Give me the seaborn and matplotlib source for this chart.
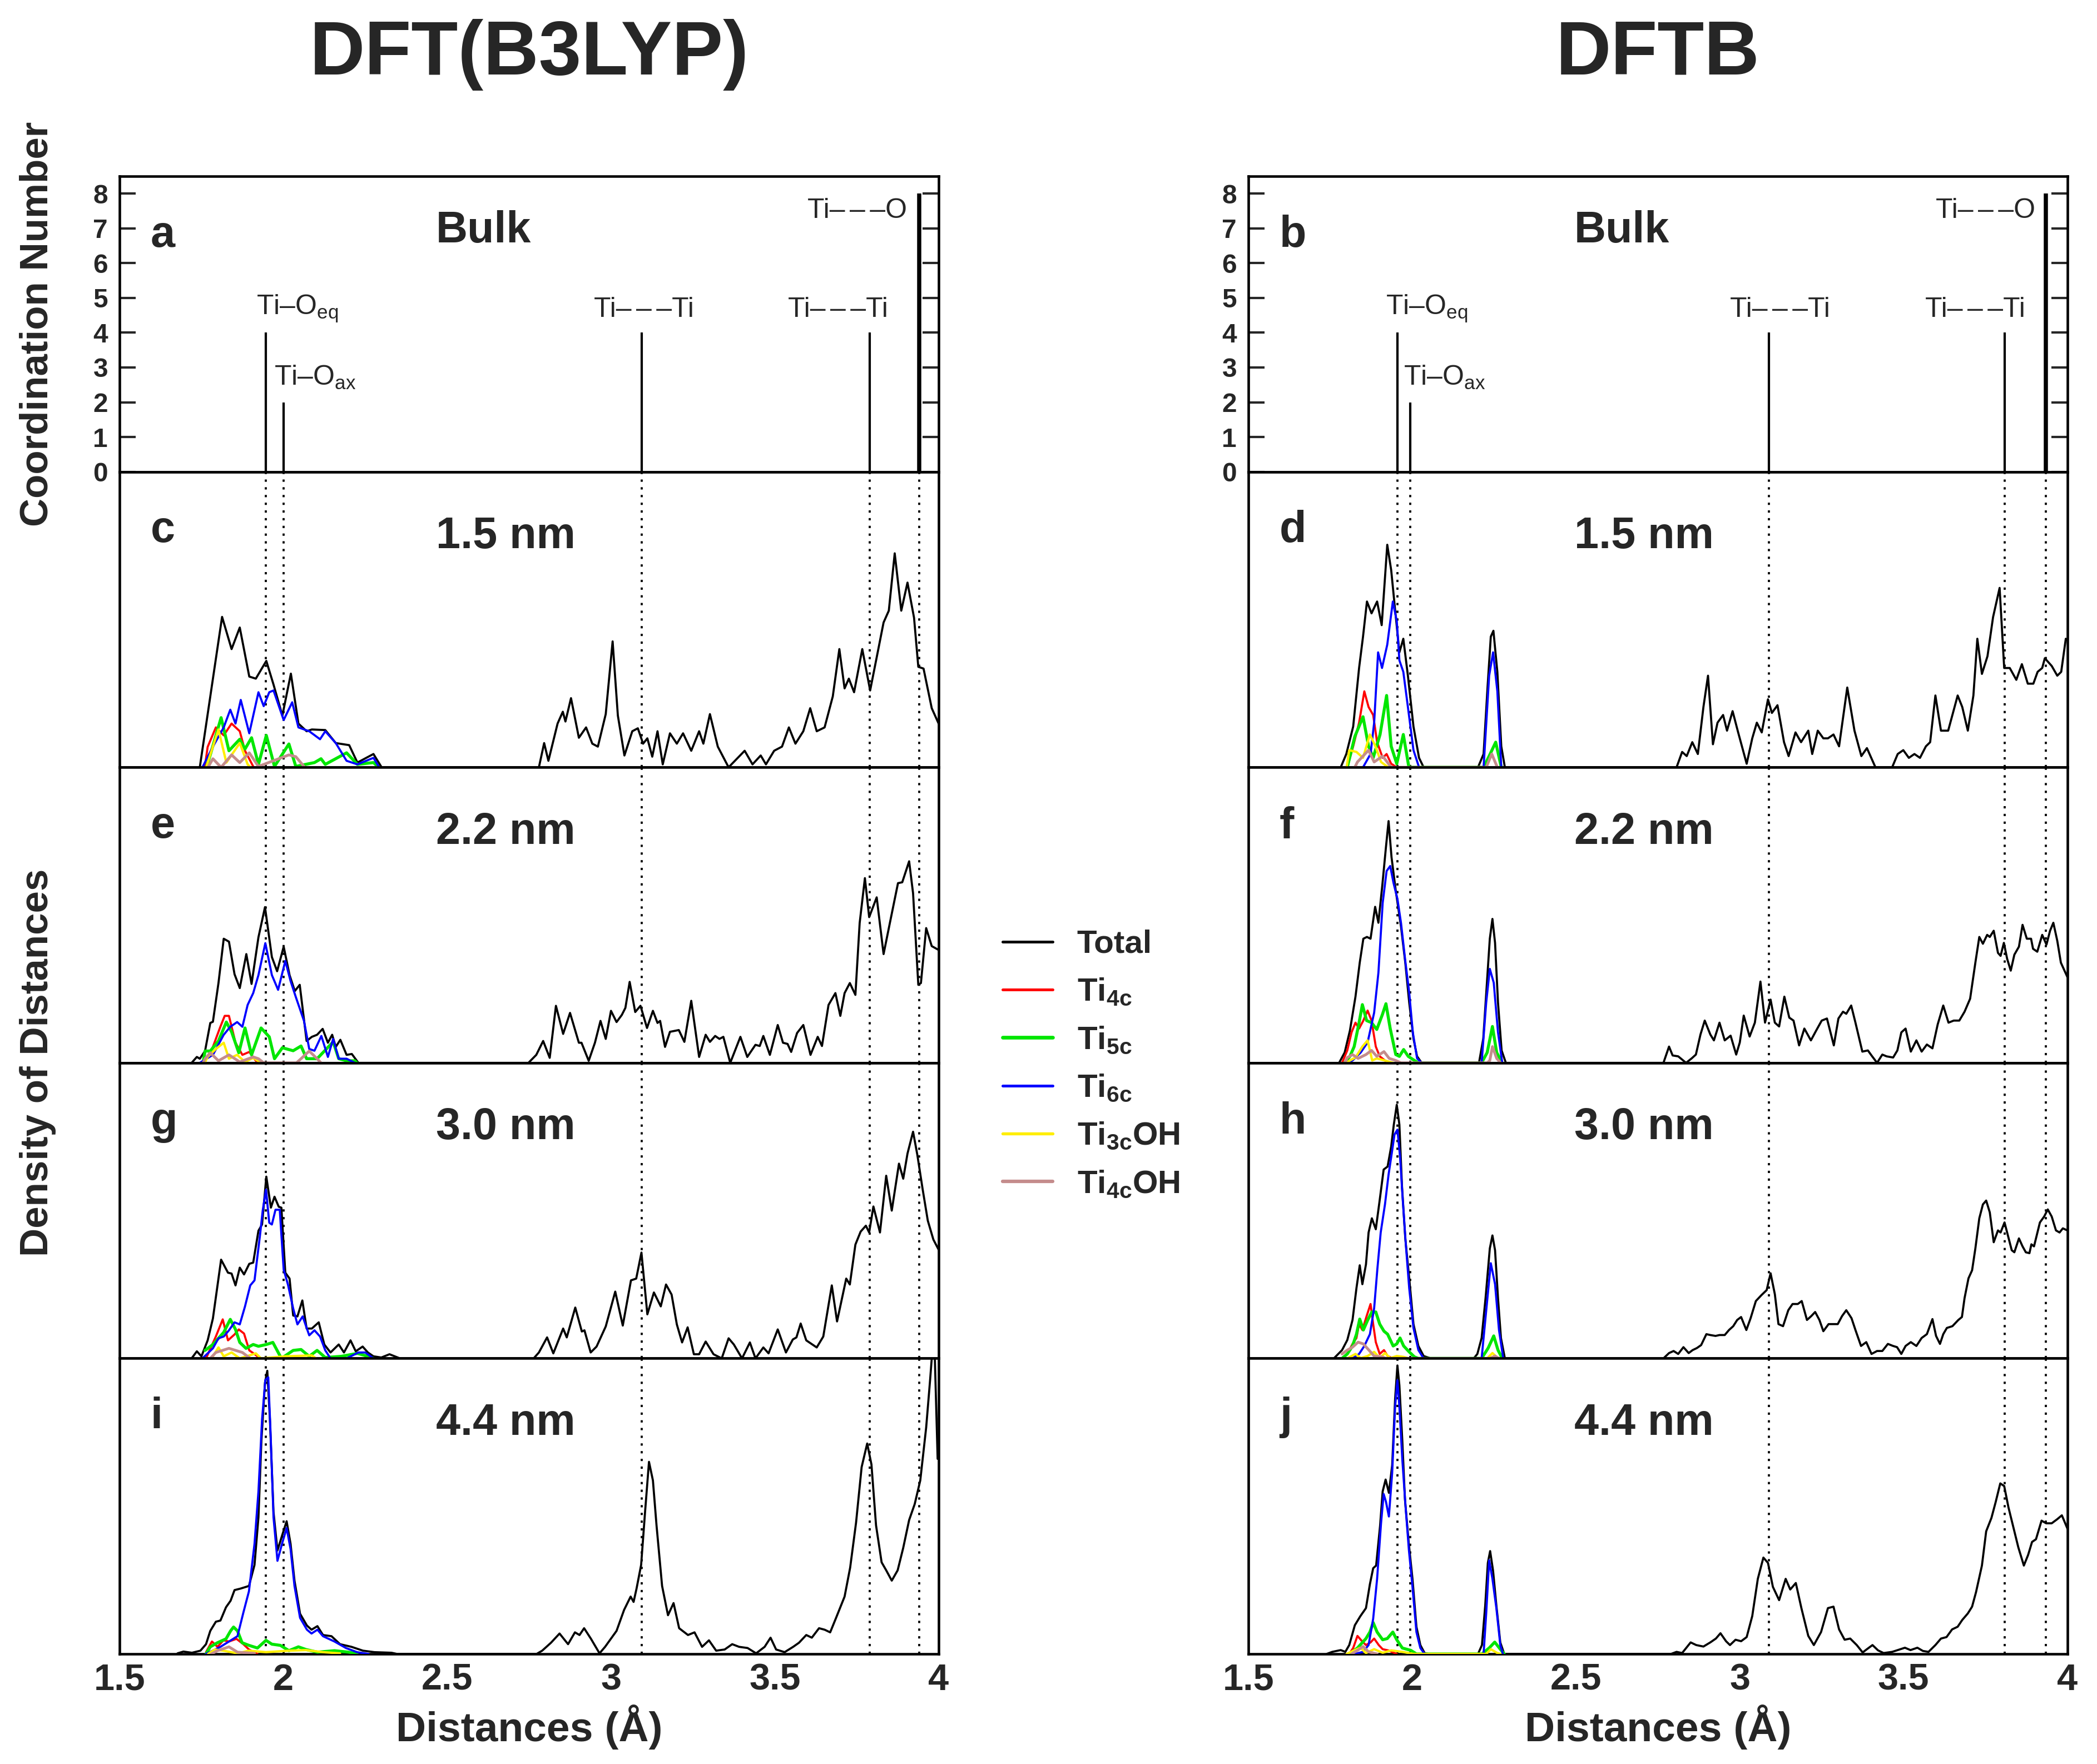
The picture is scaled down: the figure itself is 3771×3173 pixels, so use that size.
import matplotlib
matplotlib.use("Agg")
import matplotlib.pyplot as plt
import seaborn as sns
import pandas as pd

# ------------------------------------------------------------------ data
X_TICKS = [1.5, 2.0, 2.5, 3.0, 3.5, 4.0]
X_TICK_LABELS = ["1.5", "2", "2.5", "3", "3.5", "4"]
CN_TICKS = [0, 1, 2, 3, 4, 5, 6, 7, 8]

DASHES = "–\u2006–\u2006–"
BULK_NAMES = ["Ti–O$_{\\mathrm{eq}}$", "Ti–O$_{\\mathrm{ax}}$", "Ti" + DASHES + "Ti", "Ti" + DASHES + "Ti",
              "Ti" + DASHES + "O"]
DFT_BULK_POS = [1.947, 2.000, 3.094, 3.790, 3.941]
DFT_BULK_CN = [4, 2, 4, 4, 8]
DFTB_BULK_POS = [1.955, 1.994, 3.089, 3.808, 3.934]
DFTB_BULK_CN = [4, 2, 4, 4, 8]

SIZES = ["1.5 nm", "2.2 nm", "3.0 nm", "4.4 nm"]
SERIES = ["Total", "Ti4c", "Ti5c", "Ti6c", "Ti3cOH", "Ti4cOH"]
LEGEND_LABELS = ["Total", "Ti$_{\\mathbf{4c}}$", "Ti$_{\\mathbf{5c}}$", "Ti$_{\\mathbf{6c}}$",
                 "Ti$_{\\mathbf{3c}}$OH", "Ti$_{\\mathbf{4c}}$OH"]

# ---- DFT(B3LYP), 1.5 nm (panel c)
C_TOTAL = [(1.745,0),(1.813,0.509),(1.842,0.40),(1.867,0.473),(1.896,0.307),(1.916,0.30),(1.948,0.36),
           (1.970,0.28),(1.997,0.175),(2.023,0.317),(2.046,0.148),(2.071,0.122),(2.087,0.128),(2.128,0.126),
           (2.160,0.082),(2.201,0.075),(2.226,0.016),(2.275,0.045),(2.300,0.0),(2.780,0.0),(2.796,0.082),
           (2.809,0.022),(2.837,0.148),(2.853,0.188),(2.861,0.155),(2.878,0.234),(2.902,0.10),(2.924,0.135),
           (2.943,0.08),(2.960,0.07),(2.984,0.18),(3.005,0.426),(3.021,0.175),(3.041,0.04),(3.065,0.122),
           (3.082,0.132),(3.098,0.08),(3.111,0.098),(3.126,0.036),(3.142,0.122),(3.158,0.01),(3.180,0.115),
           (3.201,0.08),(3.220,0.115),(3.245,0.056),(3.269,0.122),(3.282,0.08),(3.302,0.18),(3.326,0.07),
           (3.359,0.0),(3.408,0.056),(3.432,0.01),(3.457,0.04),(3.473,0.01),(3.498,0.056),(3.522,0.07),
           (3.543,0.135),(3.563,0.08),(3.587,0.122),(3.608,0.20),(3.628,0.122),(3.652,0.135),(3.677,0.24),
           (3.697,0.40),(3.713,0.267),(3.726,0.30),(3.742,0.254),(3.767,0.40),(3.791,0.26),(3.816,0.40),
           (3.832,0.49),(3.848,0.53),(3.866,0.724),(3.886,0.53),(3.905,0.625),(3.925,0.506),(3.938,0.34),
           (3.954,0.334),(3.979,0.20),(4.0,0.148)]
C_TI4C = [(1.760,0),(1.769,0.069),(1.794,0.135),(1.818,0.108),(1.842,0.148),(1.867,0.122),(1.883,0.056),(1.908,0.003)]
C_TI5C = [(1.765,0),(1.777,0.042),(1.810,0.168),(1.834,0.056),(1.867,0.095),(1.883,0.062),(1.903,0.10),(1.924,0.01),
          (1.948,0.108),(1.973,0.003),(2.017,0.079),(2.038,0.003),(2.095,0.016),(2.115,0.029),(2.128,0.01),
          (2.193,0.049),(2.226,0.01),(2.275,0.016),(2.291,0.0)]
C_TI6C = [(1.753,0),(1.785,0.07),(1.818,0.135),(1.838,0.195),(1.854,0.148),(1.870,0.228),(1.896,0.115),(1.924,0.254),
          (1.940,0.207),(1.957,0.254),(1.970,0.26),(2.001,0.16),(2.027,0.22),(2.046,0.135),(2.079,0.122),(2.112,0.095),
          (2.128,0.122),(2.160,0.082),(2.193,0.022),(2.226,0.01),(2.275,0.032),(2.291,0.003)]
C_TI3COH = [(1.765,0.0),(1.769,0.016),(1.802,0.128),(1.826,0.016),(1.867,0.082),(1.891,0.01),(1.900,0.0)]
C_TI4COH = [(1.770,0),(1.785,0.029),(1.810,0.0),(1.842,0.042),(1.867,0.016),(1.896,0.049),(1.924,0.003),
            (2.017,0.042),(2.038,0.036),(2.063,0.003)]

# ---- DFT(B3LYP), 2.2 nm (panel e)
E_TOTAL = [(1.720,0),(1.736,0.02),(1.745,0.014),(1.761,0.04),(1.777,0.135),(1.785,0.139),(1.802,0.27),(1.818,0.42),
           (1.834,0.41),(1.851,0.30),(1.867,0.253),(1.887,0.368),(1.903,0.267),(1.924,0.425),(1.944,0.527),
           (1.965,0.358),(1.981,0.31),(2.001,0.393),(2.019,0.297),(2.035,0.243),(2.050,0.264),(2.071,0.074),
           (2.087,0.088),(2.103,0.095),(2.120,0.115),(2.136,0.068),(2.149,0.095),(2.160,0.054),(2.174,0.078),
           (2.193,0.027),(2.209,0.030),(2.229,0.0),(2.748,0.0),(2.772,0.027),(2.793,0.074),(2.813,0.017),
           (2.832,0.193),(2.854,0.098),(2.875,0.169),(2.902,0.068),(2.910,0.068),(2.932,0.007),(2.951,0.068),
           (2.968,0.142),(2.984,0.081),(3.000,0.176),(3.017,0.138),(3.033,0.162),(3.044,0.186),(3.057,0.274),
           (3.074,0.172),(3.090,0.193),(3.110,0.118),(3.128,0.176),(3.142,0.135),(3.150,0.142),(3.165,0.054),
           (3.180,0.105),(3.207,0.111),(3.224,0.071),(3.245,0.21),(3.269,0.02),(3.289,0.095),(3.302,0.071),
           (3.318,0.091),(3.331,0.081),(3.343,0.088),(3.364,0.0),(3.395,0.088),(3.416,0.02),(3.441,0.061),
           (3.454,0.057),(3.465,0.091),(3.485,0.027),(3.509,0.128),(3.525,0.068),(3.539,0.064),(3.550,0.037),
           (3.568,0.101),(3.587,0.128),(3.609,0.027),(3.631,0.088),(3.644,0.057),(3.664,0.196),(3.685,0.236),
           (3.700,0.159),(3.713,0.236),(3.729,0.27),(3.746,0.23),(3.759,0.473),(3.775,0.625),(3.788,0.493),
           (3.811,0.56),(3.832,0.368),(3.853,0.483),(3.876,0.608),(3.889,0.611),(3.910,0.682),(3.922,0.574),
           (3.938,0.264),(3.946,0.27),(3.962,0.456),(3.979,0.395),(4.0,0.382)]
E_TI4C = [(1.761,0.007),(1.785,0.054),(1.807,0.12),(1.821,0.159),(1.834,0.159),(1.854,0.068),(1.875,0.027),
          (1.896,0.037),(1.916,0.007),(1.932,0.0)]
E_TI5C = [(1.755,0.0),(1.761,0.04),(1.777,0.04),(1.802,0.074),(1.826,0.138),(1.842,0.105),(1.864,0.034),(1.883,0.118),
          (1.903,0.027),(1.932,0.118),(1.957,0.088),(1.973,0.014),(1.997,0.051),(2.030,0.041),(2.054,0.057),
          (2.071,0.014),(2.103,0.014),(2.152,0.071),(2.169,0.014),(2.193,0.007),(2.218,0.007),(2.225,0.0)]
E_TI6C = [(1.745,0),(1.785,0.027),(1.818,0.095),(1.838,0.122),(1.859,0.138),(1.875,0.122),(1.891,0.196),(1.908,0.236),
          (1.924,0.297),(1.945,0.405),(1.965,0.297),(1.984,0.247),(2.006,0.345),(2.022,0.277),(2.038,0.223),
          (2.063,0.142),(2.079,0.047),(2.095,0.041),(2.116,0.091),(2.136,0.020),(2.152,0.081),(2.169,0.014),
          (2.193,0.014),(2.218,0.0)]
E_TI3COH = [(1.760,0.0),(1.769,0.02),(1.794,0.047),(1.818,0.068),(1.834,0.014),(1.859,0.027),(1.883,0.003),
            (1.908,0.017),(1.932,0.0)]
E_TI4COH = [(1.755,0.0),(1.761,0.014),(1.777,0.034),(1.802,0.007),(1.834,0.027),(1.867,0.003),(1.908,0.02),
            (1.924,0.014),(1.940,0.0),(2.040,0.0),(2.054,0.014),(2.079,0.04),(2.103,0.014),(2.115,0.0)]

# ---- DFT(B3LYP), 3.0 nm (panel g)
G_TOTAL = [(1.720,0),(1.736,0.024),(1.750,0.007),(1.769,0.061),(1.785,0.135),(1.810,0.334),(1.831,0.29),
           (1.842,0.287),(1.854,0.247),(1.867,0.307),(1.880,0.284),(1.896,0.32),(1.908,0.324),(1.924,0.432),
           (1.935,0.453),(1.948,0.615),(1.962,0.51),(1.973,0.547),(1.986,0.513),(1.994,0.51),(2.006,0.29),
           (2.019,0.27),(2.030,0.145),(2.043,0.142),(2.058,0.196),(2.071,0.101),(2.087,0.101),(2.108,0.122),
           (2.125,0.047),(2.144,0.02),(2.169,0.047),(2.185,0.02),(2.205,0.061),(2.221,0.024),(2.242,0.04),
           (2.258,0.02),(2.275,0.007),(2.299,0.003),(2.324,0.014),(2.356,0.0),(2.764,0.0),(2.780,0.02),
           (2.805,0.071),(2.824,0.017),(2.854,0.101),(2.865,0.071),(2.891,0.172),(2.911,0.091),(2.919,0.095),
           (2.938,0.02),(2.956,0.04),(2.984,0.108),(3.013,0.226),(3.036,0.111),(3.061,0.264),(3.077,0.27),
           (3.093,0.358),(3.111,0.149),(3.131,0.223),(3.152,0.176),(3.168,0.25),(3.185,0.216),(3.201,0.115),
           (3.217,0.054),(3.234,0.105),(3.253,0.014),(3.269,0.014),(3.289,0.057),(3.313,0.014),(3.338,0.0),
           (3.359,0.068),(3.375,0.047),(3.400,0.0),(3.424,0.054),(3.441,0.0),(3.465,0.037),(3.481,0.017),
           (3.509,0.098),(3.534,0.02),(3.555,0.064),(3.566,0.071),(3.579,0.118),(3.596,0.061),(3.628,0.037),
           (3.648,0.074),(3.674,0.247),(3.690,0.125),(3.718,0.27),(3.729,0.25),(3.746,0.385),(3.762,0.429),
           (3.778,0.449),(3.788,0.426),(3.801,0.514),(3.821,0.426),(3.840,0.618),(3.857,0.50),(3.879,0.659),
           (3.892,0.608),(3.905,0.693),(3.922,0.767),(3.935,0.689),(3.951,0.574),(3.967,0.466),(3.984,0.402),
           (4.0,0.368)]
G_TI4C = [(1.764,0),(1.794,0.074),(1.815,0.132),(1.831,0.061),(1.851,0.081),(1.864,0.098),(1.880,0.084),
          (1.896,0.027),(1.913,0.014),(1.929,0.0)]
G_TI5C = [(1.761,0.027),(1.785,0.047),(1.818,0.088),(1.838,0.132),(1.854,0.098),(1.867,0.054),(1.886,0.034),
          (1.908,0.047),(1.924,0.041),(1.948,0.047),(1.968,0.054),(1.994,0.0),(2.030,0.027),(2.054,0.03),
          (2.079,0.007),(2.103,0.027),(2.128,0.003),(2.177,0.007),(2.226,0.017),(2.258,0.007),(2.275,0.0)]
G_TI6C = [(1.753,0),(1.785,0.034),(1.802,0.068),(1.818,0.074),(1.834,0.095),(1.851,0.122),(1.867,0.115),
          (1.883,0.176),(1.899,0.247),(1.912,0.264),(1.929,0.419),(1.937,0.50),(1.947,0.571),(1.957,0.459),
          (1.965,0.453),(1.976,0.503),(1.989,0.503),(2.001,0.30),(2.014,0.25),(2.030,0.169),(2.043,0.115),
          (2.059,0.142),(2.079,0.078),(2.095,0.095),(2.112,0.074),(2.128,0.027),(2.144,0.0),(2.193,0.0),
          (2.229,0.020),(2.250,0.020),(2.275,0.0)]
G_TI3COH = [(1.785,0.007),(1.802,0.037),(1.818,0.007),(1.842,0.02),(1.867,0.0),(1.916,0.017),(1.932,0.0),
            (2.006,0.007),(2.087,0.01),(2.100,0.0)]
G_TI4COH = [(1.777,0.0),(1.794,0.02),(1.834,0.034),(1.875,0.02),(1.899,0.0)]

# ---- DFT(B3LYP), 4.4 nm (panel i)
I_TOTAL = [(1.677,0.002),(1.695,0.008),(1.721,0.004),(1.747,0.011),(1.764,0.033),(1.777,0.078),(1.794,0.109),
           (1.808,0.113),(1.825,0.158),(1.839,0.18),(1.851,0.216),(1.869,0.221),(1.895,0.23),(1.912,0.301),
           (1.924,0.462),(1.933,0.721),(1.944,0.918),(1.951,0.958),(1.959,0.793),(1.970,0.48),(1.982,0.35),
           (1.996,0.40),(2.010,0.449),(2.022,0.373),(2.034,0.248),(2.051,0.136),(2.072,0.096),(2.086,0.082),
           (2.104,0.094),(2.121,0.064),(2.147,0.06),(2.173,0.033),(2.208,0.024),(2.243,0.011),(2.278,0.006),
           (2.330,0.004),(2.347,0.0),(2.773,0.0),(2.790,0.011),(2.817,0.038),(2.843,0.069),(2.869,0.033),
           (2.890,0.073),(2.904,0.064),(2.918,0.087),(2.939,0.051),(2.965,0.002),(2.982,0.024),(3.017,0.078),
           (3.040,0.149),(3.060,0.194),(3.069,0.176),(3.078,0.221),(3.092,0.301),(3.104,0.48),(3.116,0.65),
           (3.128,0.587),(3.139,0.435),(3.156,0.23),(3.174,0.131),(3.191,0.172),(3.208,0.087),(3.235,0.064),
           (3.255,0.073),(3.278,0.024),(3.299,0.046),(3.321,0.011),(3.347,0.015),(3.370,0.033),(3.391,0.024),
           (3.417,0.02),(3.443,0.002),(3.469,0.024),(3.487,0.055),(3.504,0.015),(3.530,0.006),(3.556,0.024),
           (3.574,0.038),(3.596,0.064),(3.613,0.055),(3.635,0.087),(3.652,0.082),(3.669,0.073),(3.687,0.122),
           (3.700,0.158),(3.713,0.194),(3.730,0.292),(3.748,0.444),(3.765,0.632),(3.782,0.712),(3.795,0.641),
           (3.809,0.435),(3.826,0.31),(3.840,0.283),(3.857,0.248),(3.875,0.283),(3.892,0.359),(3.910,0.453),
           (3.927,0.507),(3.944,0.587),(3.962,0.766),(3.974,0.927),(3.986,1.10),(3.997,0.66)]
I_TI4C = [(1.764,0.006),(1.782,0.042),(1.799,0.024),(1.817,0.046),(1.834,0.042),(1.857,0.051),(1.878,0.033),
          (1.895,0.015),(1.921,0.0)]
I_TI5C = [(1.764,0.0),(1.777,0.024),(1.799,0.038),(1.825,0.051),(1.839,0.078),(1.848,0.091),(1.860,0.078),
          (1.874,0.038),(1.895,0.029),(1.921,0.02),(1.947,0.046),(1.965,0.033),(1.991,0.029),(2.017,0.011),
          (2.046,0.024),(2.069,0.015),(2.104,0.006),(2.156,0.011),(2.199,0.006),(2.225,0.0)]
I_TI6C = [(1.764,0),(1.808,0.024),(1.834,0.042),(1.860,0.06),(1.878,0.14),(1.895,0.212),(1.912,0.373),
          (1.924,0.55),(1.935,0.793),(1.945,0.927),(1.954,0.936),(1.961,0.748),(1.970,0.462),(1.982,0.315),
          (1.996,0.373),(2.010,0.426),(2.022,0.355),(2.034,0.23),(2.051,0.122),(2.072,0.082),(2.086,0.069),
          (2.104,0.082),(2.121,0.06),(2.156,0.042),(2.191,0.02),(2.225,0.006),(2.260,0.0)]
I_TI3COH = [(1.770,0.0),(1.791,0.015),(1.817,0.011),(1.860,0.002),(1.895,0.011),(1.947,0.006),(2.017,0.011),
            (2.069,0.013),(2.121,0.006),(2.173,0.002)]
I_TI4COH = [(1.780,0.0),(1.799,0.011),(1.834,0.024),(1.860,0.006),(1.912,0.002)]

# ---- DFTB, 1.5 nm (panel d)
D_TOTAL = [(1.782,0),(1.799,0.045),(1.820,0.138),(1.838,0.336),(1.850,0.442),(1.862,0.561),(1.876,0.521),
           (1.893,0.561),(1.907,0.481),(1.924,0.753),(1.936,0.667),(1.949,0.521),(1.961,0.389),(1.973,0.435),
           (1.987,0.31),(2.004,0.138),(2.021,0.032),(2.035,0.0),(2.201,0.0),(2.218,0.045),(2.230,0.27),
           (2.240,0.442),(2.248,0.462),(2.260,0.323),(2.272,0.071),(2.283,0.0),(2.807,0.0),(2.824,0.052),
           (2.838,0.038),(2.855,0.085),(2.872,0.045),(2.889,0.204),(2.903,0.31),(2.918,0.078),(2.932,0.151),
           (2.949,0.177),(2.961,0.124),(2.978,0.19),(2.995,0.118),(3.021,0.012),(3.038,0.098),(3.052,0.151),
           (3.067,0.118),(3.086,0.23),(3.098,0.184),(3.115,0.21),(3.135,0.085),(3.149,0.038),(3.170,0.118),
           (3.187,0.085),(3.209,0.124),(3.221,0.045),(3.238,0.124),(3.255,0.098),(3.269,0.098),(3.286,0.111),
           (3.303,0.071),(3.328,0.27),(3.350,0.124),(3.371,0.038),(3.388,0.065),(3.414,0.0),(3.465,0.0),
           (3.482,0.045),(3.499,0.058),(3.516,0.032),(3.533,0.045),(3.550,0.032),(3.568,0.071),(3.581,0.085),
           (3.597,0.243),(3.614,0.124),(3.636,0.124),(3.665,0.243),(3.679,0.204),(3.696,0.124),(3.713,0.243),
           (3.725,0.435),(3.739,0.316),(3.756,0.376),(3.773,0.508),(3.793,0.607),(3.807,0.336),(3.824,0.336),
           (3.844,0.296),(3.861,0.349),(3.879,0.283),(3.896,0.283),(3.909,0.323),(3.923,0.336),(3.931,0.369),
           (3.952,0.343),(3.969,0.31),(3.981,0.323),(3.995,0.435),(4.0,0.43)]
D_TI4C = [(1.802,0),(1.820,0.071),(1.838,0.151),(1.854,0.257),(1.867,0.204),(1.881,0.177),(1.893,0.085),
          (1.910,0.032),(1.922,0.045),(1.936,0.012),(1.953,0.0)]
D_TI5C = [(1.802,0),(1.825,0.104),(1.850,0.171),(1.867,0.071),(1.881,0.032),(1.902,0.111),(1.922,0.243),
          (1.936,0.071),(1.953,0.012),(1.973,0.111),(1.990,0.0),(2.218,0.0),(2.235,0.038),(2.255,0.085),(2.272,0.0)]
D_TI6C = [(1.850,0),(1.873,0.045),(1.884,0.151),(1.896,0.389),(1.908,0.336),(1.924,0.415),(1.941,0.561),
          (1.953,0.495),(1.961,0.362),(1.973,0.323),(1.987,0.204),(2.004,0.058),(2.021,0.0),(2.218,0.0),
          (2.235,0.31),(2.247,0.389),(2.260,0.257),(2.272,0.0)]
D_TI3COH = [(1.800,0.0),(1.808,0.058),(1.830,0.052),(1.850,0.032),(1.871,0.111),(1.888,0.071),(1.905,0.018),
            (1.927,0.0)]
D_TI4COH = [(1.825,0.0),(1.833,0.018),(1.867,0.058),(1.884,0.018),(1.910,0.038),(1.936,0.0),(2.226,0.0),
            (2.243,0.045),(2.260,0.0)]

# ---- DFTB, 2.2 nm (panel f)
F_TOTAL = [(1.777,0),(1.794,0.035),(1.810,0.109),(1.827,0.224),(1.840,0.339),(1.851,0.42),(1.862,0.426),
           (1.873,0.42),(1.887,0.528),(1.897,0.474),(1.909,0.602),(1.920,0.73),(1.928,0.818),(1.937,0.696),
           (1.950,0.582),(1.966,0.46),(1.979,0.339),(1.991,0.204),(2.004,0.082),(2.015,0.022),(2.029,0.0),
           (2.204,0.0),(2.217,0.082),(2.229,0.285),(2.237,0.42),(2.245,0.487),(2.253,0.406),(2.262,0.204),
           (2.273,0.042),(2.286,0.0),(2.767,0.0),(2.784,0.055),(2.795,0.025),(2.812,0.022),(2.836,0.0),
           (2.853,0.015),(2.866,0.028),(2.880,0.096),(2.893,0.143),(2.910,0.096),(2.921,0.076),(2.938,0.136),
           (2.954,0.076),(2.972,0.092),(2.989,0.028),(3.000,0.069),(3.012,0.16),(3.030,0.089),(3.046,0.136),
           (3.063,0.275),(3.077,0.136),(3.094,0.214),(3.107,0.136),(3.120,0.123),(3.136,0.224),(3.151,0.153),
           (3.164,0.143),(3.181,0.059),(3.197,0.116),(3.217,0.076),(3.233,0.109),(3.250,0.143),(3.266,0.15),
           (3.287,0.059),(3.301,0.15),(3.315,0.173),(3.325,0.166),(3.340,0.194),(3.353,0.136),(3.374,0.038),
           (3.391,0.042),(3.402,0.025),(3.419,0.0),(3.435,0.028),(3.448,0.022),(3.468,0.018),(3.481,0.042),
           (3.493,0.103),(3.506,0.116),(3.522,0.038),(3.539,0.076),(3.555,0.038),(3.571,0.062),(3.588,0.049),
           (3.604,0.13),(3.621,0.194),(3.637,0.136),(3.653,0.143),(3.670,0.143),(3.686,0.173),(3.703,0.217),
           (3.719,0.339),(3.731,0.426),(3.742,0.403),(3.755,0.433),(3.763,0.426),(3.775,0.447),(3.788,0.372),
           (3.796,0.362),(3.806,0.406),(3.816,0.352),(3.827,0.312),(3.838,0.366),(3.852,0.393),(3.863,0.467),
           (3.876,0.42),(3.889,0.42),(3.895,0.386),(3.908,0.376),(3.923,0.433),(3.936,0.40),(3.947,0.447),
           (3.957,0.474),(3.969,0.413),(3.980,0.339),(4.0,0.29)]
F_TI4C = [(1.786,0),(1.802,0.042),(1.815,0.103),(1.827,0.136),(1.838,0.116),(1.851,0.143),(1.864,0.177),
          (1.876,0.143),(1.889,0.055),(1.901,0.022),(1.917,0.008),(1.930,0.0)]
F_TI5C = [(1.794,0),(1.810,0.022),(1.823,0.055),(1.838,0.136),(1.848,0.197),(1.861,0.143),(1.876,0.136),
          (1.892,0.113),(1.909,0.163),(1.920,0.2),(1.933,0.116),(1.950,0.028),(1.961,0.022),(1.974,0.045),
          (1.988,0.022),(2.007,0.008),(2.019,0.0),(2.212,0.0),(2.229,0.035),(2.245,0.123),(2.258,0.035),(2.275,0.0)]
F_TI6C = [(1.802,0),(1.818,0.008),(1.843,0.035),(1.864,0.069),(1.884,0.17),(1.897,0.305),(1.910,0.541),
          (1.922,0.649),(1.933,0.666),(1.943,0.609),(1.955,0.555),(1.966,0.473),(1.979,0.345),(1.991,0.237),
          (2.002,0.103),(2.015,0.015),(2.029,0.0),(2.212,0.0),(2.226,0.204),(2.237,0.318),(2.249,0.271),
          (2.262,0.103),(2.275,0.0)]
F_TI3COH = [(1.800,0.0),(1.810,0.008),(1.827,0.018),(1.848,0.055),(1.864,0.076),(1.878,0.008),(1.892,0.015),
            (1.917,0.008),(1.942,0.0)]
F_TI4COH = [(1.795,0.0),(1.802,0.018),(1.818,0.028),(1.835,0.015),(1.859,0.028),(1.876,0.042),(1.892,0.022),
            (1.914,0.038),(1.930,0.015),(1.950,0.008),(1.966,0.0),(2.229,0.0),(2.237,0.008),(2.245,0.055),
            (2.258,0.015),(2.270,0.0)]

# ---- DFTB, 3.0 nm (panel h)
H_TOTAL = [(1.761,0),(1.786,0.028),(1.802,0.062),(1.818,0.13),(1.830,0.238),(1.840,0.315),(1.848,0.251),
           (1.859,0.318),(1.867,0.426),(1.877,0.474),(1.889,0.437),(1.900,0.528),(1.913,0.639),(1.925,0.649),
           (1.936,0.717),(1.944,0.791),(1.953,0.858),(1.961,0.791),(1.969,0.582),(1.979,0.406),(1.991,0.271),
           (2.004,0.116),(2.019,0.042),(2.035,0.008),(2.057,0.0),(2.188,0.0),(2.199,0.015),(2.212,0.069),
           (2.224,0.204),(2.237,0.372),(2.245,0.416),(2.253,0.366),(2.262,0.204),(2.271,0.069),(2.283,0.0),
           (2.767,0.0),(2.784,0.018),(2.798,0.025),(2.812,0.015),(2.828,0.038),(2.844,0.018),(2.856,0.028),
           (2.869,0.035),(2.882,0.045),(2.898,0.082),(2.910,0.079),(2.926,0.076),(2.938,0.079),(2.954,0.079),
           (2.967,0.096),(2.980,0.109),(2.992,0.13),(3.004,0.14),(3.020,0.096),(3.033,0.136),(3.049,0.194),
           (3.066,0.214),(3.082,0.231),(3.094,0.288),(3.107,0.217),(3.118,0.116),(3.132,0.109),(3.148,0.163),
           (3.161,0.184),(3.177,0.184),(3.189,0.194),(3.205,0.13),(3.218,0.143),(3.230,0.157),(3.243,0.13),
           (3.255,0.092),(3.271,0.116),(3.287,0.116),(3.299,0.116),(3.312,0.143),(3.325,0.163),(3.341,0.136),
           (3.353,0.096),(3.370,0.042),(3.386,0.055),(3.402,0.015),(3.419,0.025),(3.435,0.025),(3.452,0.049),
           (3.468,0.042),(3.480,0.038),(3.493,0.015),(3.506,0.042),(3.522,0.055),(3.539,0.042),(3.555,0.069),
           (3.571,0.082),(3.588,0.133),(3.599,0.076),(3.611,0.049),(3.621,0.082),(3.632,0.103),(3.649,0.109),
           (3.667,0.13),(3.678,0.14),(3.686,0.204),(3.698,0.271),(3.709,0.298),(3.719,0.372),(3.731,0.474),
           (3.742,0.521),(3.752,0.534),(3.763,0.494),(3.775,0.393),(3.788,0.433),(3.796,0.426),(3.808,0.46),
           (3.819,0.413),(3.830,0.366),(3.838,0.359),(3.852,0.406),(3.863,0.379),(3.873,0.359),(3.884,0.356),
           (3.890,0.386),(3.898,0.379),(3.916,0.46),(3.929,0.48),(3.940,0.504),(3.952,0.48),(3.965,0.433),
           (3.976,0.426),(3.986,0.44),(4.0,0.433)]
H_TI4C = [(1.786,0),(1.802,0.015),(1.818,0.049),(1.830,0.069),(1.838,0.116),(1.848,0.096),(1.861,0.143),
          (1.873,0.184),(1.881,0.116),(1.889,0.055),(1.901,0.015),(1.914,0.028),(1.925,0.008),(1.942,0.0)]
H_TI5C = [(1.786,0),(1.802,0.015),(1.818,0.042),(1.830,0.082),(1.840,0.133),(1.851,0.096),(1.864,0.129),
          (1.877,0.157),(1.889,0.157),(1.901,0.116),(1.914,0.092),(1.925,0.082),(1.942,0.042),(1.953,0.049),
          (1.963,0.069),(1.974,0.042),(1.991,0.022),(2.007,0.005),(2.019,0.0),(2.212,0.0),(2.232,0.035),
          (2.249,0.076),(2.262,0.028),(2.275,0.0)]
H_TI6C = [(1.818,0),(1.838,0.015),(1.854,0.042),(1.871,0.082),(1.884,0.17),(1.894,0.305),(1.904,0.426),
          (1.917,0.521),(1.928,0.622),(1.938,0.696),(1.946,0.757),(1.955,0.774),(1.963,0.683),(1.971,0.541),
          (1.981,0.38),(1.991,0.237),(2.004,0.103),(2.019,0.028),(2.035,0.0),(2.212,0.0),(2.225,0.15),
          (2.240,0.322),(2.253,0.251),(2.265,0.096),(2.278,0.0)]
H_TI3COH = [(1.802,0.0),(1.827,0.015),(1.843,0.001),(1.864,0.008),(1.884,0.022),(1.901,0.001),(1.917,0.018),
            (1.933,0.001),(1.953,0.008),(1.974,0.005),(1.990,0.0),(2.229,0.0),(2.245,0.018),(2.262,0.0)]
H_TI4COH = [(1.786,0.015),(1.802,0.028),(1.818,0.038),(1.835,0.055),(1.851,0.049),(1.868,0.028),(1.884,0.008),
            (1.909,0.005),(1.920,0.0),(2.237,0.0),(2.253,0.008),(2.265,0.0)]

# ---- DFTB, 4.4 nm (panel j)
J_TOTAL = [(1.739,0),(1.756,0.007),(1.782,0.013),(1.796,0.007),(1.808,0.03),(1.825,0.097),(1.842,0.128),
           (1.859,0.155),(1.871,0.236),(1.881,0.29),(1.890,0.299),(1.902,0.433),(1.910,0.55),(1.919,0.59),
           (1.929,0.545),(1.939,0.639),(1.948,0.864),(1.955,0.976),(1.961,0.909),(1.970,0.72),(1.978,0.523),
           (1.990,0.37),(2.001,0.254),(2.013,0.092),(2.025,0.03),(2.038,0.003),(2.050,0.0),(2.201,0.0),
           (2.213,0.03),(2.223,0.164),(2.231,0.308),(2.238,0.348),(2.247,0.281),(2.257,0.164),(2.269,0.039),
           (2.281,0.0),(2.790,0.0),(2.807,0.007),(2.824,0.003),(2.850,0.039),(2.867,0.03),(2.889,0.025),
           (2.910,0.039),(2.927,0.052),(2.941,0.07),(2.958,0.043),(2.970,0.03),(2.987,0.048),(3.004,0.043),
           (3.021,0.057),(3.038,0.128),(3.055,0.254),(3.072,0.326),(3.086,0.308),(3.101,0.227),(3.120,0.182),
           (3.140,0.254),(3.154,0.218),(3.171,0.24),(3.188,0.155),(3.209,0.061),(3.226,0.03),(3.248,0.074),
           (3.269,0.155),(3.286,0.16),(3.303,0.083),(3.320,0.048),(3.337,0.052),(3.357,0.03),(3.375,0.005),
           (3.388,0.016),(3.405,0.03),(3.422,0.012),(3.439,0.003),(3.465,0.007),(3.482,0.013),(3.504,0.021),
           (3.521,0.013),(3.542,0.021),(3.559,0.01),(3.576,0.007),(3.597,0.03),(3.614,0.052),(3.631,0.057),
           (3.648,0.083),(3.665,0.092),(3.679,0.115),(3.696,0.137),(3.709,0.16),(3.721,0.209),(3.739,0.299),
           (3.752,0.415),(3.768,0.46),(3.781,0.514),(3.795,0.577),(3.807,0.568),(3.820,0.496),(3.836,0.424),
           (3.850,0.361),(3.867,0.299),(3.880,0.335),(3.892,0.379),(3.904,0.388),(3.921,0.451),(3.935,0.442),
           (3.952,0.442),(3.969,0.456),(3.983,0.469),(4.0,0.424)]
J_TI4C = [(1.808,0),(1.820,0.02),(1.833,0.061),(1.847,0.043),(1.859,0.03),(1.873,0.039),(1.884,0.052),
          (1.898,0.03),(1.910,0.016),(1.927,0.012),(1.953,0.0)]
J_TI5C = [(1.808,0),(1.833,0.02),(1.859,0.052),(1.871,0.074),(1.881,0.106),(1.893,0.074),(1.910,0.048),
          (1.924,0.052),(1.941,0.074),(1.953,0.048),(1.970,0.02),(1.996,0.012),(2.013,0.0),(2.213,0.0),
          (2.235,0.02),(2.252,0.04),(2.269,0.016),(2.281,0.0)]
J_TI6C = [(1.825,0),(1.850,0.007),(1.867,0.03),(1.881,0.119),(1.893,0.254),(1.905,0.442),(1.913,0.541),
          (1.920,0.515),(1.929,0.465),(1.939,0.613),(1.948,0.837),(1.955,0.926),(1.961,0.837),(1.970,0.657),
          (1.980,0.496),(1.990,0.352),(2.001,0.227),(2.013,0.074),(2.025,0.02),(2.038,0.0),(2.218,0.0),
          (2.226,0.137),(2.235,0.317),(2.245,0.254),(2.257,0.155),(2.269,0.03),(2.277,0.0)]
J_TI3COH = [(1.800,0.0),(1.825,0.013),(1.842,0.021),(1.859,0.003),(1.884,0.016),(1.910,0.004),(1.936,0.012),
            (1.970,0.007),(2.004,0.0),(2.226,0.0),(2.240,0.016),(2.260,0.003),(2.270,0.0)]
J_TI4COH = [(1.815,0.0),(1.833,0.012),(1.850,0.025),(1.867,0.007),(1.893,0.0)]

# ------------------------------------------------------------------ style
sns.set_style("ticks")
plt.rcParams["font.family"] = ["Liberation Sans", "DejaVu Sans"]
plt.rcParams["mathtext.fontset"] = "custom"
plt.rcParams["mathtext.rm"] = "Liberation Sans"
plt.rcParams["mathtext.it"] = "Liberation Sans:italic"
plt.rcParams["mathtext.bf"] = "Liberation Sans:bold"
plt.rcParams["axes.linewidth"] = 1.1

COLORS = {"Total": "#000000", "Ti4c": "#ff0000", "Ti5c": "#00e600", "Ti6c": "#0000ff",
          "Ti3cOH": "#ffee00", "Ti4cOH": "#c48c8c"}
WIDTHS = {"Total": 0.9, "Ti4c": 0.9, "Ti5c": 1.3, "Ti6c": 0.9, "Ti3cOH": 1.0, "Ti4cOH": 1.2}

DFT_PANELS = [("c", C_TOTAL, C_TI4C, C_TI5C, C_TI6C, C_TI3COH, C_TI4COH),
              ("e", E_TOTAL, E_TI4C, E_TI5C, E_TI6C, E_TI3COH, E_TI4COH),
              ("g", G_TOTAL, G_TI4C, G_TI5C, G_TI6C, G_TI3COH, G_TI4COH),
              ("i", I_TOTAL, I_TI4C, I_TI5C, I_TI6C, I_TI3COH, I_TI4COH)]
DFTB_PANELS = [("d", D_TOTAL, D_TI4C, D_TI5C, D_TI6C, D_TI3COH, D_TI4COH),
               ("f", F_TOTAL, F_TI4C, F_TI5C, F_TI6C, F_TI3COH, F_TI4COH),
               ("h", H_TOTAL, H_TI4C, H_TI5C, H_TI6C, H_TI3COH, H_TI4COH),
               ("j", J_TOTAL, J_TI4C, J_TI5C, J_TI6C, J_TI3COH, J_TI4COH)]

COLUMNS = [
    dict(title="DFT(B3LYP)", letter="a", pos=DFT_BULK_POS, cn=DFT_BULK_CN, panels=DFT_PANELS,
         ann=[(1.918, 4.52), (1.972, 2.49), (2.948, 4.46), (3.540, 4.46), (3.600, 7.30)], x0=0.0570,
         lab_x=2.465),
    dict(title="DFTB", letter="b", pos=DFTB_BULK_POS, cn=DFTB_BULK_CN, panels=DFTB_PANELS,
         ann=[(1.919, 4.52), (1.974, 2.49), (2.970, 4.46), (3.565, 4.46), (3.598, 7.30)], x0=0.5953,
         lab_x=2.495),
]

W = 3771 / 300
H = 3173 / 300
fig = plt.figure(figsize=(W, H), dpi=300)
AX_W = 0.3906
ROW_H = 0.16754
BOTTOM = 0.0624

legend_handles = None
for col in COLUMNS:
    axes = []
    for r in range(5):
        ax = fig.add_axes([col["x0"], BOTTOM + (4 - r) * ROW_H, AX_W, ROW_H])
        ax.set_xlim(1.5, 4.0)
        for s in ax.spines.values():
            s.set_linewidth(1.1)
            s.set_color("black")
        axes.append(ax)

    # ---- bulk coordination panel
    ax = axes[0]
    ax.set_ylim(0, 8.5)
    ax.vlines(col["pos"][:4], 0, col["cn"][:4], colors="black", lw=1.0)
    ax.vlines(col["pos"][4:], 0, col["cn"][4:], colors="black", lw=1.8)
    ax.set_yticks(CN_TICKS)
    ax.set_yticklabels([str(t) for t in CN_TICKS], fontweight="bold")
    ax.tick_params(axis="y", direction="in", length=7, width=1.0, left=True, right=True,
                   labelsize=11.5, pad=5)
    ax.tick_params(axis="x", length=0, labelbottom=False)
    for name, (tx, ty) in zip(BULK_NAMES, col["ann"]):
        ax.text(tx, ty, name, fontsize=12, fontweight="normal", ha="left", va="baseline")
    ax.text(1.595, 6.8, col["letter"], fontsize=19, fontweight="bold", ha="left", va="center")
    ax.text(col["lab_x"], 6.93, "Bulk", fontsize=19, fontweight="bold", ha="left", va="center")
    ax.set_xlabel("")
    ax.set_ylabel("")

    # ---- density panels
    for k, (panel, *series) in enumerate(col["panels"]):
        ax = axes[k + 1]
        ax.set_ylim(0, 1)
        for p in col["pos"]:
            ax.axvline(p, color="black", lw=0.9, linestyle=(0, (1.1, 2.6)), zorder=1)
        for name, pts in zip(SERIES, series):
            df = pd.DataFrame(pts, columns=["d", "dens"])
            sns.lineplot(data=df, x="d", y="dens", ax=ax, sort=False, estimator=None,
                         color=COLORS[name], linewidth=WIDTHS[name], zorder=3)
        ax.set_yticks([])
        ax.set_xlabel("")
        ax.set_ylabel("")
        ax.text(1.595, 0.80, panel, fontsize=19, fontweight="bold", ha="left", va="center")
        ax.text(col["lab_x"], 0.78, SIZES[k], fontsize=19, fontweight="bold", ha="left", va="center")
        if k < 3:
            ax.tick_params(axis="x", length=0, labelbottom=False)
        else:
            ax.set_xticks(X_TICKS)
            ax.set_xticklabels(X_TICK_LABELS, fontweight="bold")
            ax.tick_params(axis="x", length=0, labelsize=16, pad=4)
            ax.set_xlabel("Distances (Å)", fontsize=18, fontweight="bold", labelpad=3)
        if legend_handles is None and k == 0:
            legend_handles = ax.get_lines()[len(col["pos"]):]

    fig.text(col["x0"] + AX_W / 2, 0.969, col["title"], fontsize=33, fontweight="bold",
             ha="center", va="center")

fig.text(0.018, 0.8163, "Coordination Number", rotation=90, fontsize=17, fontweight="bold",
         ha="center", va="center")
fig.text(0.018, 0.3977, "Density of Distances", rotation=90, fontsize=17, fontweight="bold",
         ha="center", va="center")

leg = fig.legend(legend_handles, LEGEND_LABELS, loc="center left", bbox_to_anchor=(0.478, 0.3965),
                 frameon=False, fontsize=14, handlelength=1.55, handletextpad=0.75,
                 labelspacing=0.55, borderpad=0.0, borderaxespad=0.0)
for t in leg.get_texts():
    t.set_fontweight("bold")
for h, name in zip(leg.legend_handles, SERIES):
    h.set_linewidth(WIDTHS[name] + 0.3)

fig.savefig("out.png", dpi=300)
